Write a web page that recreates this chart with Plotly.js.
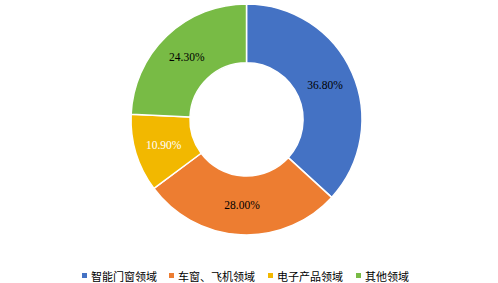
<!DOCTYPE html>
<html>
<head>
<meta charset="utf-8">
<script src="https://cdn.plot.ly/plotly-3.0.1.min.js"></script>
<style>html,body{margin:0;padding:0;background:#fff;}#chart{width:498px;height:283px;}</style>
</head>
<body>
<div id="chart"></div>
<script>
// Share of applications by field (%)
const categories = ['智能门窗领域', '车窗、飞机领域', '电子产品领域', '其他领域'];
const shares = [36.8, 28.0, 10.9, 24.3];
const sliceColors = ['#4472C4', '#ED7D31', '#F2B800', '#78BB45'];
const labelColors = ['#000000', '#000000', '#ffffff', '#000000'];

const W = 498, H = 283;

const trace = {
  type: 'pie',
  labels: categories,
  values: shares,
  text: shares.map(v => v.toFixed(2) + '%'),
  textinfo: 'text',
  hoverinfo: 'none',
  hole: 0.49,
  sort: false,
  direction: 'clockwise',
  rotation: 0,
  textposition: 'inside',
  insidetextorientation: 'horizontal',
  insidetextfont: {family: 'Liberation Serif', size: 11.5, color: labelColors},
  marker: {colors: sliceColors, line: {color: '#ffffff', width: 1.5}},
  domain: {x: [0.263, 0.727], y: [0.170, 0.986]}
};

// Legend row: small colour square followed by the category name
const legendSquareX = [82, 169, 268, 356];
const legendY = 275.5;
const shapes = [], annotations = [];
categories.forEach((name, i) => {
  const x0 = legendSquareX[i];
  shapes.push({
    type: 'rect', xref: 'paper', yref: 'paper',
    x0: x0 / W, x1: (x0 + 5) / W,
    y0: 1 - (legendY + 2.5) / H, y1: 1 - (legendY - 2.5) / H,
    fillcolor: sliceColors[i], line: {width: 0}
  });
  annotations.push({
    xref: 'paper', yref: 'paper', x: (x0 + 8) / W, y: 1 - legendY / H,
    xanchor: 'left', yanchor: 'middle', showarrow: false,
    borderpad: 0,
    text: name,
    font: {family: 'Noto Sans CJK SC', size: 11, color: '#000'}
  });
});

const layout = {
  width: W, height: H,
  margin: {l: 0, r: 0, t: 0, b: 0},
  paper_bgcolor: '#ffffff',
  showlegend: false,
  shapes: shapes,
  annotations: annotations
};

Plotly.newPlot('chart', [trace], layout, {displayModeBar: false, staticPlot: true});
</script>
</body>
</html>
